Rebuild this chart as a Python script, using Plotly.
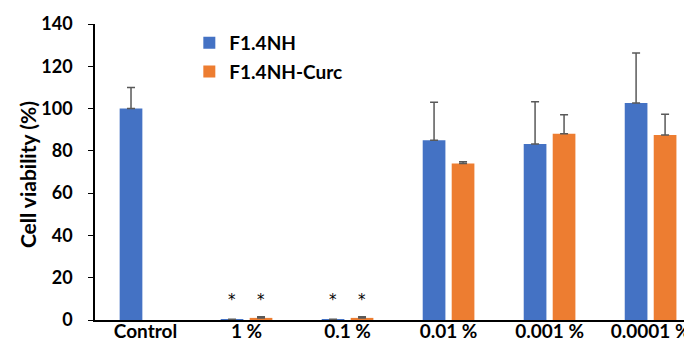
import plotly.graph_objects as go

categories = ["Control", "1 %", "0.1 %", "0.01 %", "0.001 %", "0.0001 %"]
f14nh = [100, 0.3, 0.3, 85, 83.2, 102.6]
f14nh_err = [10, 0, 0, 18, 20, 23.7]
f14nh_curc = [None, 1.0, 1.0, 74, 88.1, 87.5]
f14nh_curc_err = [0, 0.5, 0.5, 0.8, 9, 9.8]
star_cats = [1, 2]
star_y = 9.5
y_title = "Cell viability (%)"

FONT = "Lato"
fig = go.Figure()
fig.add_trace(go.Bar(
    name="F1.4NH", x=categories, y=f14nh, legendgroup="a",
    marker=dict(color="#4472C4", line=dict(width=0)),
    error_y=dict(type="data", array=f14nh_err, symmetric=False, arrayminus=[0]*6,
                 color="#595959", thickness=1.5, width=4),
))
fig.add_trace(go.Bar(
    name="F1.4NH-Curc", x=categories, y=f14nh_curc, legendgroup="b",
    marker=dict(color="#ED7D31", line=dict(width=0)),
    error_y=dict(type="data", array=f14nh_curc_err, symmetric=False, arrayminus=[0]*6,
                 color="#595959", thickness=1.5, width=4),
))
for c in star_cats:
    for off in (-0.145, 0.145):
        fig.add_annotation(x=c + off, y=star_y, text="*", showarrow=False,
                           font=dict(family="DejaVu Sans", size=15, color="#000000"),
                           xanchor="center", yanchor="middle")

fig.add_annotation(xref="paper", yref="paper", x=-0.112, y=0.49, text=y_title,
                   textangle=-90, showarrow=False, xanchor="center", yanchor="middle",
                   font=dict(family=FONT, size=21, color="black", weight="bold"))

fig.update_layout(
    width=684, height=348,
    margin=dict(l=87, r=0, t=16, b=36),
    plot_bgcolor="white", paper_bgcolor="white",
    barmode="group", bargap=0.426, bargroupgap=0.217,
    font=dict(family=FONT, color="black"),
    showlegend=True,
    legend=dict(x=0.158, y=1.0, xanchor="left", yanchor="top",
                font=dict(family=FONT, size=19, color="black", weight="bold"),
                bgcolor="rgba(0,0,0,0)", tracegroupgap=1, itemsizing="constant"),
    xaxis=dict(range=[-0.5, 5.41], showline=True, linecolor="black", linewidth=2,
               ticks="", tickfont=dict(family=FONT, size=19, weight="bold"),
               ticklabelstandoff=-7,
               showgrid=False, zeroline=False),
    yaxis=dict(range=[0, 140], dtick=20, showline=True, linecolor="black", linewidth=1.5,
               ticks="outside", ticklen=5, tickcolor="black", tickwidth=1,
               tickfont=dict(family=FONT, size=18, weight="bold"),
               ticklabelstandoff=12,
               showgrid=False, zeroline=False),
)
fig.write_html("out.html")
